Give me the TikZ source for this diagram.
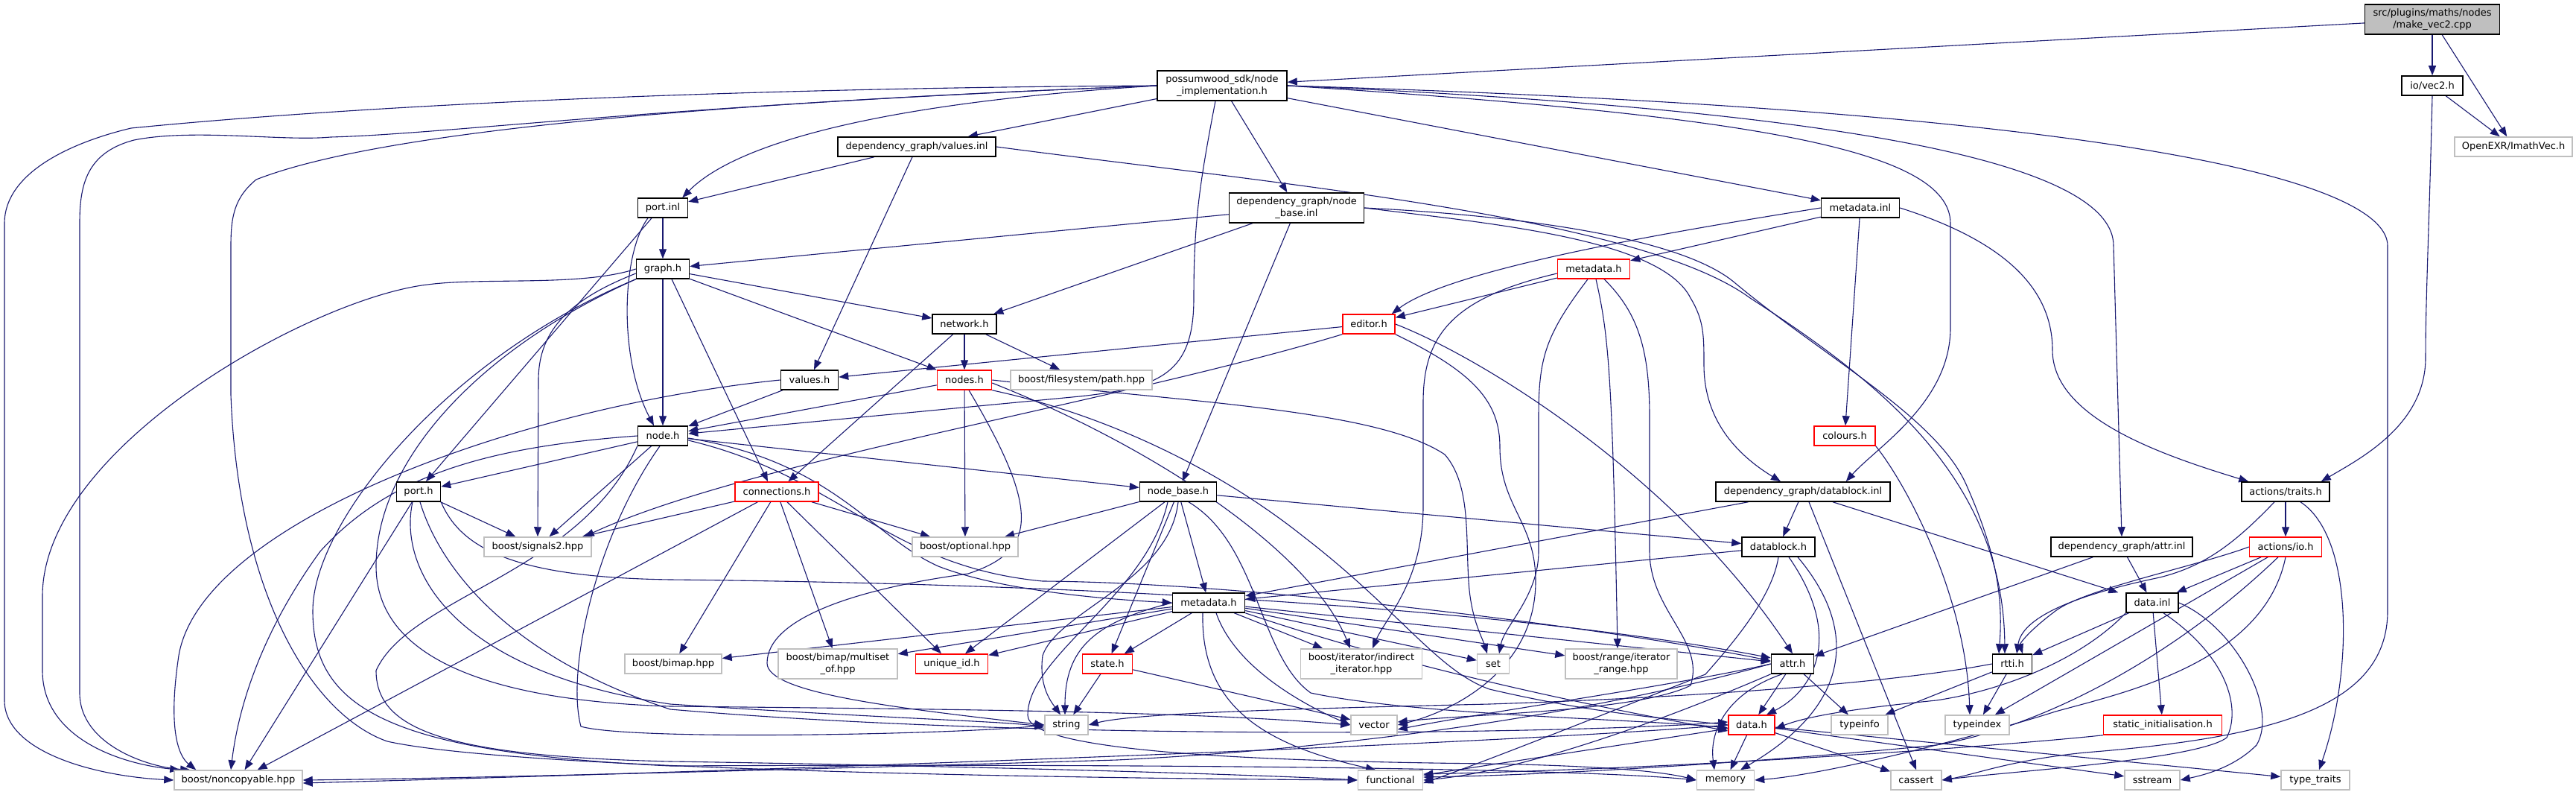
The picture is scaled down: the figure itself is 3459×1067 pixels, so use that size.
\documentclass[tikz,border=0pt]{standalone}
\usepackage{fontspec}
\setmainfont{DejaVu Sans}
\usetikzlibrary{arrows.meta}
\definecolor{edgec}{HTML}{191970}
\definecolor{extc}{HTML}{BFBFBF}
\pgfdeclarelayer{bg}
\pgfsetlayers{bg,main}
\begin{document}
\begin{tikzpicture}[x=1pt,y=-1pt,
  box/.style={draw, fill=white, line width=1.5pt, inner sep=0pt, minimum height=26pt,
    font=\fontsize{13}{15.5}\selectfont, align=center, text=black},
  bk/.style={box, draw=black},
  rd/.style={box, draw=red},
  gy/.style={box, draw=extc},
  rootn/.style={box, draw=black, fill=extc},
  tall/.style={minimum height=40pt},
  edge/.style={draw=edgec, line width=1.1pt, -{Triangle[length=13pt,width=10pt]}}]
\useasboundingbox (0,0) rectangle (3459,1067);

% ---------- nodes ----------
\node[rootn, minimum width=181pt, tall] (mv) at (3266,26) {src/plugins/maths/nodes\\/make\_vec2.cpp};
\node[bk, minimum width=174pt, tall] (ni) at (1641,115) {possumwood\_sdk/node\\\_implementation.h};
\node[bk, minimum width=82pt] (iv) at (3266,115) {io/vec2.h};
\node[gy, minimum width=158pt] (exr) at (3375,197) {OpenEXR/ImathVec.h};
\node[bk, minimum width=212pt] (vi) at (1231,197) {dependency\_graph/values.inl};
\node[bk, minimum width=67pt] (pi) at (890,279) {port.inl};
\node[bk, minimum width=181pt, tall] (nbi) at (1741,279) {dependency\_graph/node\\\_base.inl};
\node[bk, minimum width=105pt] (mi) at (2498,279) {metadata.inl};
\node[bk, minimum width=71pt] (gr) at (890,361) {graph.h};
\node[rd, minimum width=97pt] (mhr) at (2140,361) {metadata.h};
\node[bk, minimum width=86pt] (nw) at (1295,435) {network.h};
\node[rd, minimum width=70pt] (ed) at (1838,435) {editor.h};
\node[bk, minimum width=77pt] (vh) at (1087,510) {values.h};
\node[rd, minimum width=73pt] (nsh) at (1295,510) {nodes.h};
\node[gy, minimum width=190pt] (fs) at (1452,510) {boost/filesystem/path.hpp};
\node[bk, minimum width=67pt] (nh) at (890,585) {node.h};
\node[rd, minimum width=82pt] (col) at (2477,585) {colours.h};
\node[bk, minimum width=59pt] (ph) at (562,660) {port.h};
\node[rd, minimum width=112pt] (con) at (1043,660) {connections.h};
\node[bk, minimum width=103pt] (nbh) at (1582,660) {node\_base.h};
\node[bk, minimum width=234pt] (dbi) at (2421,660) {dependency\_graph/datablock.inl};
\node[bk, minimum width=118pt] (at) at (3069,660) {actions/traits.h};
\node[gy, minimum width=144pt] (sig) at (722,734) {boost/signals2.hpp};
\node[gy, minimum width=142pt] (opt) at (1296,734) {boost/optional.hpp};
\node[bk, minimum width=98pt] (dbh) at (2388,734) {datablock.h};
\node[bk, minimum width=190pt] (ai) at (2849,734) {dependency\_graph/attr.inl};
\node[rd, minimum width=97pt] (aio) at (3069,734) {actions/io.h};
\node[bk, minimum width=97pt] (mh) at (1623,809) {metadata.h};
\node[bk, minimum width=70pt] (di) at (2890,809) {data.inl};
\node[gy, minimum width=130pt] (bm) at (904,891) {boost/bimap.hpp};
\node[gy, minimum width=160pt, tall] (ms) at (1125,891) {boost/bimap/multiset\\\_of.hpp};
\node[rd, minimum width=97pt] (uid) at (1278,891) {unique\_id.h};
\node[rd, minimum width=67pt] (st) at (1487,891) {state.h};
\node[gy, minimum width=163pt, tall] (ii) at (1828,891) {boost/iterator/indirect\\\_iterator.hpp};
\node[gy, minimum width=43pt] (set) at (2005,891) {set};
\node[gy, minimum width=150pt, tall] (rg) at (2177,891) {boost/range/iterator\\\_range.hpp};
\node[bk, minimum width=57pt] (ah) at (2407,891) {attr.h};
\node[bk, minimum width=53pt] (rt) at (2702,891) {rtti.h};
\node[gy, minimum width=58pt] (str) at (1432,973) {string};
\node[gy, minimum width=62pt] (vec) at (1845,973) {vector};
\node[rd, minimum width=62pt] (dh) at (2352,973) {data.h};
\node[gy, minimum width=76pt] (ti) at (2497,973) {typeinfo};
\node[gy, minimum width=86pt] (tx) at (2655,973) {typeindex};
\node[rd, minimum width=159pt] (si) at (2904,973) {static\_initialisation.h};
\node[gy, minimum width=172pt] (nc) at (320,1047) {boost/noncopyable.hpp};
\node[gy, minimum width=87pt] (fn) at (1867,1047) {functional};
\node[gy, minimum width=77pt] (mem) at (2317,1047) {memory};
\node[gy, minimum width=68pt] (cas) at (2573,1047) {cassert};
\node[gy, minimum width=74pt] (ss) at (2890,1047) {sstream};
\node[gy, minimum width=92pt] (tt) at (3109,1047) {type\_traits};

% ---------- edges ----------
\begin{pgfonlayer}{bg}
% make_vec2.cpp, io/vec2.h
\draw[edge] (mv) -- (ni);
\draw[edge] (mv) -- (iv);
\draw[edge] (mv) -- (exr);
\draw[edge] (iv) -- (exr);
\draw[edge] (iv.south) .. controls (3262,300) and (3257,400) .. (3257,480) .. controls (3257,570) and (3170,615) .. ([xshift=-12pt]at.north east);
% node_implementation.h
\draw[edge] (ni) -- (vi);
\draw[edge] (ni.west) .. controls (1150,140) and (980,200) .. ([xshift=-8pt]pi.north east);
\draw[edge] (ni) -- (nbi);
\draw[edge] (ni) -- (mi);
\draw[edge] ([xshift=-9pt]ni.south) .. controls (1610,250) and (1603,300) .. (1603,400) .. controls (1603,500) and (1560,520) .. (1450,532) -- ([yshift=3pt]nh.east);
\draw[edge] (ni.east) .. controls (2350,155) and (2619,200) .. (2619,300) -- (2619,440) .. controls (2619,540) and (2520,600) .. ([xshift=-60pt]dbi.north east);
\draw[edge] (ni.east) .. controls (2550,150) and (2838,230) .. (2838,330) -- (ai.north);
\draw[edge] (ni.east) .. controls (2900,150) and (3206,250) .. (3206,330) -- (3206,820) .. controls (3206,950) and (3050,990) .. (2800,1010) .. controls (2700,1020) and (2650,1040) .. (cas.east);
\draw[edge] (ni.west) .. controls (1000,118) and (500,140) .. (176,172) .. controls (100,190) and (6,230) .. (6,300) -- (6,940) .. controls (6,1010) and (130,1042) .. (nc.west);
\draw[edge] (ni.west) .. controls (900,140) and (600,180) .. (444,184) .. controls (380,190) and (260,172) .. (180,188) .. controls (115,205) and (107,250) .. (107,300) -- (107,930) .. controls (107,1000) and (200,1030) .. ([xshift=22pt]nc.north west);
\draw[edge] (ni.west) .. controls (900,140) and (500,180) .. (344,241) .. controls (315,265) and (310,290) .. (310,330) -- (310,530) .. controls (320,800) and (420,960) .. (520,995) .. controls (700,1035) and (1500,1045) .. (fn.west);
% values.inl
\draw[edge] (vi) -- (pi);
\draw[edge] ([xshift=-6pt]vi.south) -- ([xshift=6pt]vh.north);
\draw[edge] (vi.east) .. controls (1700,245) and (2200,290) .. (2350,400) .. controls (2520,510) and (2690,640) .. ([xshift=-10pt]rt.north);
% port.inl
\draw[edge] (pi) -- (gr);
\draw[edge] ([xshift=-20pt]pi.south) .. controls (835,340) and (830,480) .. ([xshift=-12pt]nh.north);
\draw[edge] ([xshift=-15pt]pi.south) -- ([xshift=10pt]ph.north);
% node_base.inl
\draw[edge] (nbi) -- (gr);
\draw[edge] (nbi) -- (nw);
\draw[edge] (nbi) -- (nbh);
\draw[edge] (nbi.east) .. controls (2000,300) and (2230,320) .. (2270,400) .. controls (2288,430) and (2288,450) .. (2288,490) .. controls (2288,570) and (2340,615) .. ([xshift=-30pt]dbi.north);
\draw[edge] (nbi.east) .. controls (2050,290) and (2260,320) .. (2330,380) .. controls (2450,480) and (2600,560) .. (2640,650) .. controls (2680,740) and (2690,800) .. ([xshift=-18pt]rt.north);
% metadata.inl
\draw[edge] (mi) -- (mhr);
\draw[edge] (mi.west) .. controls (2250,310) and (1950,360) .. ([xshift=-5pt]ed.north east);
\draw[edge] (mi) -- (col);
\draw[edge] (mi.east) .. controls (2680,320) and (2756,380) .. (2756,470) .. controls (2756,560) and (2900,610) .. ([xshift=10pt]at.north west);
% metadata.h (sdk)
\draw[edge] (mhr) -- (ed);
\draw[edge] ([yshift=-6pt]mhr.west) .. controls (1950,400) and (1911,450) .. (1911,540) -- (1911,680) .. controls (1911,780) and (1860,830) .. ([xshift=15pt]ii.north);
\draw[edge] ([xshift=-8pt]mhr.south) .. controls (2075,450) and (2066,480) .. (2066,560) -- (2066,740) .. controls (2066,800) and (2020,840) .. ([xshift=8pt]set.north);
\draw[edge] ([xshift=3pt]mhr.south) .. controls (2160,450) and (2165,500) .. ([xshift=-5pt]rg.north);
\draw[edge] ([xshift=14pt]mhr.south) .. controls (2200,420) and (2215,470) .. (2215,560) -- (2215,740) .. controls (2215,820) and (2290,860) .. (2270,920) .. controls (2200,955) and (1980,958) .. ([yshift=4pt]vec.east);
% editor.h
\draw[edge] (ed) -- (vh);
\draw[edge] (ed.south west) .. controls (1500,540) and (1000,620) .. ([xshift=-10pt]sig.north east);
\draw[edge] (ed.south east) .. controls (1980,500) and (2014,540) .. (2014,600) .. controls (2014,680) and (2062,700) .. (2062,780) .. controls (2062,900) and (1950,955) .. (vec.east);
\draw[edge] (ed.east) .. controls (1990,480) and (2250,640) .. (ah.north);
% colours.h
\draw[edge] (col.south east) .. controls (2560,650) and (2640,800) .. ([xshift=-10pt]tx.north);
% graph.h
\draw[edge] (gr) -- (nh);
\draw[edge] (gr) -- (nsh);
\draw[edge] ([xshift=12pt]gr.south) -- ([xshift=-12pt]con.north);
\draw[edge] (gr) -- (nw);
\draw[edge] ([yshift=-6pt]gr.west) .. controls (770,400) and (723,440) .. (723,510) -- (sig.north);
\draw[edge] (gr.west) .. controls (780,385) and (650,372) .. (574,382) .. controls (420,400) and (57,600) .. (57,800) -- (57,900) .. controls (57,990) and (160,1025) .. ([xshift=8pt]nc.north west);
\draw[edge] (gr.south west) .. controls (640,470) and (505,620) .. (505,760) .. controls (505,880) and (650,940) .. (900,948) .. controls (1300,952) and (1600,955) .. (vec.west);
\draw[edge] (gr.south west) .. controls (600,480) and (420,700) .. (420,820) .. controls (420,950) and (520,1010) .. (900,1028) .. controls (1500,1025) and (2100,1030) .. (mem.west);
% network.h
\draw[edge] (nw) -- (nsh);
\draw[edge] (nw) -- (fs);
\draw[edge] (nw) -- (con);
% values.h
\draw[edge] (vh) -- (nh);
\draw[edge] (vh.west) .. controls (700,545) and (270,700) .. (240,880) .. controls (225,980) and (240,1015) .. ([xshift=30pt]nc.north west);
% nodes.h
\draw[edge] (nsh) -- (nh);
\draw[edge] (nsh) -- (opt);
\draw[edge] (nsh.east) .. controls (1600,540) and (1850,550) .. (1940,610) .. controls (1975,650) and (1968,720) .. (1972,780) .. controls (1975,830) and (1990,855) .. ([xshift=-8pt]set.north);
\draw[edge] ([yshift=-4pt]nsh.east) .. controls (1550,600) and (1760,740) .. ([xshift=-15pt]ii.north);
\draw[edge] (nsh.south east) .. controls (1500,560) and (1650,640) .. (1750,720) .. controls (1880,820) and (1930,900) .. (2000,925) .. controls (2150,960) and (2250,965) .. (dh.west);
\draw[edge] ([xshift=6pt]nsh.south) .. controls (1400,690) and (1390,740) .. (1300,770) .. controls (1150,790) and (1030,830) .. (1030,890) .. controls (1030,930) and (1200,950) .. (str.west);
% node.h
\draw[edge] (nh) -- (ph);
\draw[edge] (nh) -- (sig);
\draw[edge] (nh) -- (nbh);
\draw[edge] ([yshift=-3pt]nh.east) .. controls (1120,620) and (1170,720) .. (1260,760) .. controls (1350,795) and (1500,805) .. (mh.west);
\draw[edge] ([yshift=-6pt]nh.east) .. controls (1130,640) and (1190,760) .. (1400,780) .. controls (1700,782) and (2200,850) .. ([yshift=4pt]ah.west);
\draw[edge] (nh.west) .. controls (650,600) and (520,640) .. (430,740) .. controls (350,850) and (320,950) .. ([xshift=-10pt]nc.north);
\draw[edge] ([xshift=-4pt]nh.south) .. controls (800,720) and (760,900) .. (780,975) .. controls (850,995) and (1300,985) .. (str.west);
\draw[edge] (nh.south west) .. controls (780,770) and (550,800) .. (505,900) .. controls (505,980) and (600,1015) .. (900,1022) .. controls (1300,1028) and (1700,1040) .. (fn.west);
% port.h
\draw[edge] (ph) -- (sig);
\draw[edge] (ph) -- (nc);
\draw[edge] (ph.south east) .. controls (620,740) and (700,775) .. (900,778) .. controls (1600,785) and (2100,830) .. ([yshift=8pt]ah.west);
\draw[edge] ([xshift=-8pt]ph.south) .. controls (535,760) and (600,900) .. (900,945) .. controls (1200,965) and (1350,968) .. ([yshift=-3pt]str.west);
\draw[edge] ([xshift=2pt]ph.south) .. controls (590,760) and (680,880) .. (900,952) .. controls (1400,995) and (2100,985) .. ([yshift=4pt]dh.west);
% connections.h
\draw[edge] (con) -- (opt);
\draw[edge] (con) -- (bm);
\draw[edge] (con) -- (ms);
\draw[edge] (con) -- (uid);
\draw[edge] (con) -- (nc);
\draw[edge] (con) -- (sig);
% node_base.h
\draw[edge] (nbh) -- (opt);
\draw[edge] (nbh) -- (uid);
\draw[edge] (nbh) -- (st);
\draw[edge] (nbh) -- (mh);
\draw[edge] (nbh) -- (dbh);
\draw[edge] (nbh.south) .. controls (1570,780) and (1420,820) .. (1400,880) .. controls (1395,920) and (1410,940) .. ([xshift=-8pt]str.north);
\draw[edge] ([xshift=-14pt]nbh.south) .. controls (1540,800) and (1380,880) .. (1380,960) .. controls (1380,1010) and (1700,1022) .. (2000,1025) .. controls (2150,1028) and (2230,1035) .. (mem.west);
\draw[edge] ([xshift=14pt]nbh.south) .. controls (1690,730) and (1690,880) .. (1760,930) .. controls (1900,960) and (2200,965) .. ([yshift=-4pt]dh.west);
% metadata.h
\draw[edge] (mh) -- (bm);
\draw[edge] (mh) -- (ms);
\draw[edge] (mh) -- (uid);
\draw[edge] (mh) -- (st);
\draw[edge] (mh.west) .. controls (1470,835) and (1430,870) .. ([xshift=-2pt]str.north);
\draw[edge] ([xshift=-8pt]mh.south) .. controls (1612,950) and (1700,1000) .. ([xshift=-20pt]fn.north);
\draw[edge] (mh) -- (ii);
\draw[edge] (mh) -- (set);
\draw[edge] (mh) -- (rg);
\draw[edge] (mh) -- (ah);
\draw[edge] ([xshift=10pt]mh.south) .. controls (1660,900) and (1760,950) .. (vec.west);
\draw[edge] (mh.south east) .. controls (1900,900) and (2150,950) .. ([yshift=-8pt]dh.west);
% state.h
\draw[edge] (st) -- (str);
\draw[edge] (st) -- (vec);
% attr.h
\draw[edge] (ah.west) .. controls (2250,920) and (2000,955) .. ([yshift=-6pt]vec.east);
\draw[edge] (ah) -- (dh);
\draw[edge] (ah) -- (ti);
\draw[edge] (ah.south west) .. controls (2250,960) and (2050,1035) .. (fn.east);
\draw[edge] ([xshift=-14pt]ah.south) .. controls (2320,930) and (2295,980) .. ([xshift=-15pt]mem.north);
\draw[edge] (ah.west) .. controls (2200,940) and (1900,1000) .. (1500,1020) .. controls (1000,1035) and (600,1045) .. (nc.east);
% rtti.h
\draw[edge] (rt) -- (ti);
\draw[edge] (rt) -- (tx);
\draw[edge] (rt.west) .. controls (2550,915) and (2300,935) .. (2000,945) .. controls (1700,952) and (1520,958) .. (str.east);
% data.h
\draw[edge] (dh) -- (mem);
\draw[edge] (dh) -- (cas);
\draw[edge] (dh) -- (ss);
\draw[edge] (dh) -- (tt);
\draw[edge] (dh) -- (fn);
\draw[edge] (dh.west) .. controls (2000,1000) and (1000,1035) .. ([yshift=-4pt]nc.east);
% datablock.h
\draw[edge] (dbh) -- (mh);
\draw[edge] (dbh.south) .. controls (2380,800) and (2330,860) .. (2290,905) .. controls (2150,960) and (2000,1020) .. ([yshift=-4pt]fn.east);
\draw[edge] ([xshift=14pt]dbh.south) .. controls (2480,860) and (2430,930) .. ([xshift=20pt]dh.north);
\draw[edge] ([xshift=26pt]dbh.south) .. controls (2500,850) and (2480,950) .. ([xshift=20pt]mem.north);
% datablock.inl
\draw[edge] (dbi) -- (dbh);
\draw[edge] (dbi) -- (mh);
\draw[edge] ([xshift=40pt]dbi.south) -- ([xshift=-10pt]di.north west);
\draw[edge] ([xshift=8pt]dbi.south) -- (cas.north);
% attr.inl
\draw[edge] (ai) -- (ah);
\draw[edge] (ai) -- (di);
% actions/traits.h
\draw[edge] ([xshift=-15pt]at.south) .. controls (3000,730) and (2960,760) .. (2900,775) .. controls (2780,800) and (2715,830) .. ([xshift=6pt]rt.north);
\draw[edge] (at) -- (aio);
\draw[edge] ([xshift=20pt]at.south) .. controls (3160,720) and (3160,900) .. ([xshift=5pt]tt.north);
% actions/io.h
\draw[edge] (aio.west) .. controls (2950,760) and (2800,790) .. (2760,820) .. controls (2720,850) and (2712,865) .. ([xshift=14pt]rt.north);
\draw[edge] (aio) -- (di);
\draw[edge] (aio) -- (tx);
\draw[edge] ([xshift=-10pt]aio.south) .. controls (2900,900) and (2720,980) .. (2600,1000) .. controls (2400,1020) and (2100,1040) .. ([yshift=4pt]fn.east);
\draw[edge] (aio.south) .. controls (3040,890) and (2850,930) .. (2760,955) .. controls (2650,990) and (2450,1040) .. (mem.east);
% data.inl
\draw[edge] (di) -- (rt);
\draw[edge] (di.south west) .. controls (2800,880) and (2700,925) .. (2600,940) .. controls (2500,950) and (2430,960) .. ([yshift=-5pt]dh.east);
\draw[edge] (di) -- (si);
\draw[edge] ([xshift=15pt]di.south) .. controls (2990,880) and (3010,950) .. (2990,990) .. controls (2950,1020) and (2700,1035) .. (cas.east);
\draw[edge] (di.east) .. controls (3000,840) and (3060,950) .. (3030,1000) .. controls (3000,1030) and (2960,1040) .. (ss.east);
% static_initialisation.h
\draw[edge] (si.south west) .. controls (2700,1000) and (2300,1030) .. ([yshift=8pt]fn.east);
\end{pgfonlayer}
\end{tikzpicture}
\end{document}
